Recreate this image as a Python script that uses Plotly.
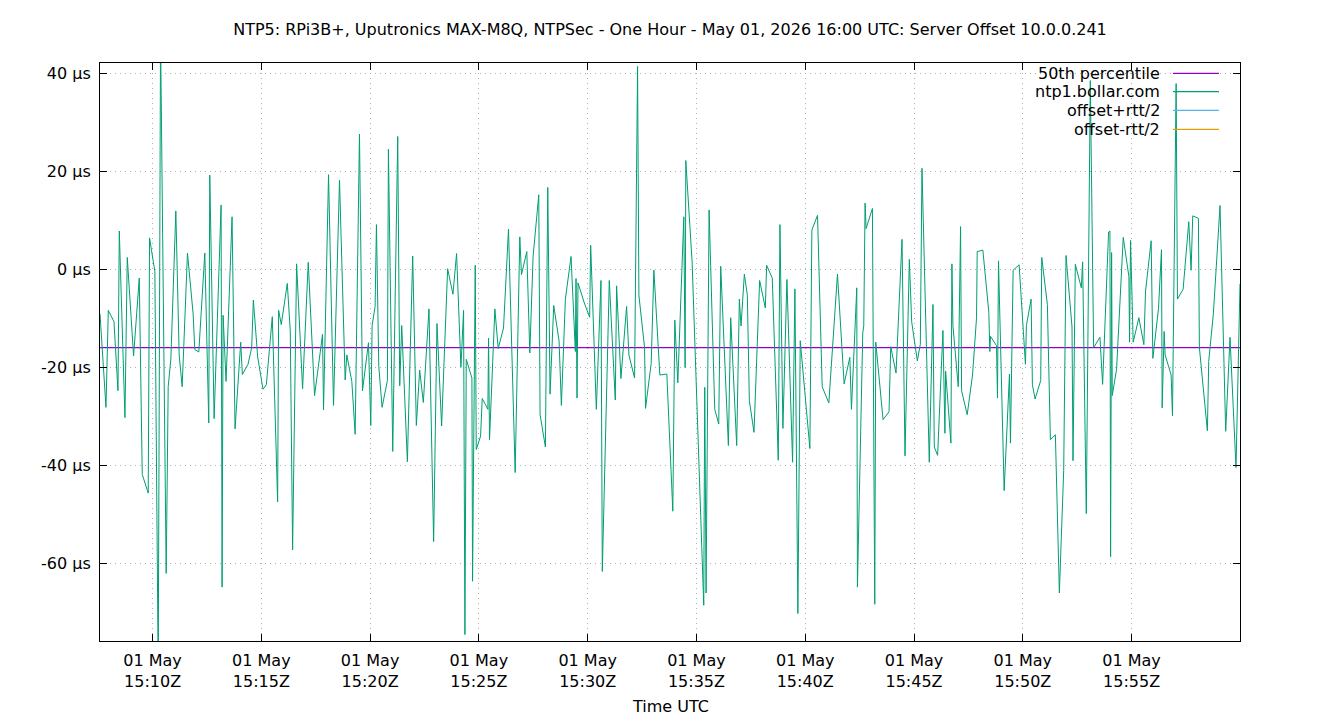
import pandas as pd
import plotly.graph_objects as go

# ---- data ----
# minutes after 2026-05-01 15:00 UTC
t_minutes = [
    7.584, 7.859, 7.966, 8.226, 8.410, 8.471, 8.731, 8.838, 9.128, 9.388, 9.526, 9.801, 9.862,
    10.107, 10.260, 10.367, 10.627, 10.719, 10.841, 11.070, 11.223, 11.361, 11.605, 11.865, 11.942,
    12.125, 12.401, 12.584, 12.630, 12.829, 13.150, 13.196, 13.242, 13.379, 13.654, 13.792, 14.052,
    14.128, 14.388, 14.556, 14.633, 14.832, 15.076, 15.229, 15.504, 15.749, 15.795, 15.917, 16.193,
    16.330, 16.437, 16.621, 16.896, 17.156, 17.447, 17.813, 17.859, 18.089, 18.318, 18.593, 18.853,
    18.930, 19.159, 19.312, 19.511, 19.648, 19.924, 20.031, 20.092, 20.229, 20.291, 20.398, 20.550,
    20.795, 20.841, 21.040, 21.269, 21.361, 21.453, 21.713, 21.957, 22.125, 22.278, 22.446, 22.706,
    22.920, 23.073, 23.287, 23.563, 23.807, 23.975, 24.174, 24.296, 24.358, 24.419, 24.679, 24.709,
    24.832, 24.878,
    25.077, 25.153, 25.413, 25.444, 25.489, 25.734, 25.887, 26.132, 26.361, 26.667, 26.881, 26.957,
    27.202, 27.340, 27.492, 27.752, 27.813, 28.058, 28.165, 28.272, 28.440, 28.685, 28.792, 28.976,
    29.236, 29.434, 29.465, 29.511, 29.557, 29.847, 30.092, 30.138, 30.398, 30.612, 30.673, 30.994,
    31.269, 31.330, 31.529, 31.789, 31.896, 32.156, 32.294, 32.355, 32.615, 32.660, 32.920, 33.043,
    33.318, 33.639,
    33.914, 34.006, 34.144, 34.419, 34.480, 34.511, 34.801, 35.336, 35.382, 35.443, 35.581, 35.841,
    36.024, 36.116, 36.468, 36.575, 36.850, 36.972, 37.049, 37.202, 37.339, 37.431, 37.645, 37.905,
    38.165, 38.226, 38.486, 38.761, 38.838, 38.975, 39.159, 39.419, 39.526, 39.663, 39.771, 40.214,
    40.306, 40.566, 40.780, 41.085, 41.483, 41.789, 42.049, 42.125, 42.370, 42.400,
    42.645, 42.691, 42.752, 42.798, 43.089, 43.196, 43.242, 43.578, 43.853, 43.930, 44.174, 44.450,
    44.587, 44.786, 44.893, 45.153, 45.291, 45.367, 45.703, 45.872, 45.933, 46.086, 46.330, 46.422,
    46.453, 46.697, 46.743, 46.789, 47.034, 47.141, 47.187, 47.446, 47.691, 47.875, 47.905, 48.165,
    48.440, 48.486, 48.517, 48.792, 48.838, 48.884, 49.144, 49.388, 49.434, 49.557, 49.832, 50.122,
    50.168, 50.382, 50.443, 50.566, 50.826, 50.872, 51.131,
    51.269, 51.499, 51.682, 51.881, 51.988, 52.263, 52.309, 52.416, 52.691, 52.752, 52.920, 53.104,
    53.257, 53.547, 53.670, 53.945, 54.006, 54.037, 54.083, 54.113, 54.312, 54.618, 54.878, 54.908,
    54.954, 55.076, 55.336, 55.566, 55.642, 55.902, 55.979, 56.239, 56.376, 56.407, 56.498, 56.544,
    56.820, 56.881, 57.049, 57.110, 57.370, 57.630, 57.737, 57.813, 58.073, 58.119, 58.486, 58.547,
    58.761, 59.067, 59.327, 59.526, 59.801, 59.985,
]

# offset in microseconds
offset_us = [
    -9.0, -28.1, -8.3, -10.6, -24.7, 7.9, -30.2, 2.5, -17.6, -1.7, -41.8, -45.6, 6.5,
    -0.4, -82.0, 48.0, -62.0, -23.9, -18.2, 12.0, -17.4, -23.9, 3.4, -9.0, -16.3,
    -16.8, 3.4, -31.3, 19.3, -30.4, 13.2, -64.8, -9.3, -22.8, 10.8, -32.5, -14.8,
    -21.4, -19.3, -15.9, -6.2, -17.8, -24.4, -23.5, -9.6, -47.4, -8.3, -11.2, -2.8,
    -12.5, -57.2, 1.2, -24.3, 1.5, -25.7, -13.2, -28.6, 19.4, -27.7, 18.3, -22.5,
    -17.4, -22.8, -33.6, 27.7, -24.7, -14.9, -31.8, -11.4, -7.5, 9.2, -19.7, -28.1,
    -22.6, 24.6, -37.1, 27.2, -23.7, -11.4, -39.2, 2.8, -31.8, -20.5, -27.1, -8.0,
    -55.5, -11.0, -31.9, 0.2, -5.0, 3.3, -19.9, -8.3, -74.5, -18.3, -22.1, -63.6,
    0.9, -36.7,
    -34.0, -26.3, -28.5, -14.0, -34.7, -8.0, -16.1, -11.9, 8.3, -41.4, 6.7, -1.0,
    3.7, -17.0, 2.7, 15.3, -29.6, -36.2, 16.8, -25.4, -7.3, -14.5, -27.7, -6.0,
    2.7, -16.7, -1.8, -26.2, -2.7, -6.8, -9.7, 5.0, -28.5, -2.2, -61.6, -2.2,
    -26.6, -3.3, -22.2, -7.5, -17.4, -22.1, 41.5, -5.2, -15.9, -28.3, -19.1, -0.1,
    -21.5, -21.3,
    -49.3, -10.3, -23.1, 10.8, -20.0, 22.3, 1.6, -68.5, -24.0, -66.0, 12.2, -28.5,
    -31.5, 0.7, -35.9, -9.8, -35.9, -6.0, -11.5, -0.9, -5.2, -26.7, -33.2, -2.2,
    -7.8, 0.9, -1.7, -38.9, 9.2, -32.4, -2.0, -39.3, -3.9, -70.2, -14.5, -36.5,
    8.1, 11.1, -23.9, -27.2, -0.9, -23.3, -17.9, -28.5, -3.7, -64.8,
    -12.9, -11.5, 13.6, 8.4, 12.5, -68.3, -14.8, -30.6, -29.0, -15.7, -21.1, 6.2,
    -38.0, 2.1, -10.6, -18.6, -15.2, 20.7, -39.3, -7.1, -36.2, -37.9, -12.4, -33.4,
    -20.7, -35.4, 1.2, -11.4, -23.9, 8.8, -24.7, -29.6, -21.5, -9.8, 3.7, 4.0,
    -8.7, -16.7, -13.6, -15.5, -26.2, 1.8, -45.1, -21.3, -35.4, -0.1, 1.0, -19.3,
    -11.4, -6.0, -23.5, -26.4, -22.6, 2.5, -7.1,
    -34.7, -33.7, -66.0, -41.0, 2.9, -11.7, -39.0, 1.1, -3.7, 1.6, -49.8, 38.6,
    -15.9, -13.8, -23.4, 7.7, 7.9, -58.6, 3.5, -25.7, -20.3, 6.6, -1.4, -14.8,
    6.0, -14.8, -9.8, -15.3, -4.4, 5.9, -18.1, -7.9, 4.1, -28.2, -12.6, -17.4,
    -21.5, -29.8, 38.0, -6.0, -4.0, 9.8, -0.1, 11.0, 10.5, -15.9, -32.9, -18.7,
    -9.0, 13.1, -33.0, -13.8, -40.4, -2.9,
]

p50_us = -15.9
y_range = [-75.8, 42.2]

x_tick_minutes = [10, 15, 20, 25, 30, 35, 40, 45, 50, 55]
x_tick_labels = ["01 May<br>15:10Z", "01 May<br>15:15Z", "01 May<br>15:20Z", "01 May<br>15:25Z",
                 "01 May<br>15:30Z", "01 May<br>15:35Z", "01 May<br>15:40Z", "01 May<br>15:45Z",
                 "01 May<br>15:50Z", "01 May<br>15:55Z"]
y_tick_vals = [-60, -40, -20, 0, 20, 40]
y_tick_labels = ["-60 µs", "-40 µs", "-20 µs", "0 µs", "20 µs", "40 µs"]

legend_names = ["50th percentile", "ntp1.bollar.com", "offset+rtt/2", "offset-rtt/2"]
legend_colors = ["#9400d3", "#009e73", "#56b4e9", "#e69f00"]

title_text = ("NTP5: RPi3B+, Uputronics MAX-M8Q, NTPSec - One Hour - May 01, 2026 16:00 UTC: "
              "Server Offset 10.0.0.241")

# ---- build ----
base = pd.Timestamp("2026-05-01 15:00:00")
times = base + pd.to_timedelta(t_minutes, unit="min")
tick_times = base + pd.to_timedelta(x_tick_minutes, unit="min")

FONT = "DejaVu Sans"
FS = 16
fig = go.Figure()
fig.add_trace(go.Scatter(x=[times[0], times[-1]], y=[p50_us, p50_us], mode="lines",
                         line=dict(color=legend_colors[0], width=1.2), name=legend_names[0],
                         showlegend=False))
fig.add_trace(go.Scatter(x=times, y=offset_us, mode="lines",
                         line=dict(color=legend_colors[1], width=1), name=legend_names[1],
                         showlegend=False))

L, R, T, B = 100, 100, 63, 79
W, H = 1340, 720
pw, ph = W - L - R, H - T - B

def px_x(x):
    return (x - L) / pw

def px_y(y):
    return 1 - (y - T) / ph

shapes = [dict(type="rect", xref="paper", yref="paper", x0=px_x(1012), x1=px_x(1226),
               y0=px_y(139), y1=1, fillcolor="white", line=dict(width=0), layer="between")]
annotations = []
rows_y = [73.4, 91.7, 110.4, 129.4]
for name, col, ry in zip(legend_names, legend_colors, rows_y):
    annotations.append(dict(text=name, xref="paper", yref="paper", x=px_x(1162), y=px_y(ry),
                            xanchor="right", yanchor="middle", showarrow=False,
                            font=dict(family=FONT, size=FS, color="black")))
    shapes.append(dict(type="line", xref="paper", yref="paper", x0=px_x(1173), x1=px_x(1219),
                       y0=px_y(ry), y1=px_y(ry), line=dict(color=col, width=1.2)))

annotations.append(dict(text="Time UTC", xref="paper", yref="paper", x=0.5, y=px_y(706),
                        xanchor="center", yanchor="middle", showarrow=False,
                        font=dict(family=FONT, size=FS, color="black")))

axis_common = dict(showline=True, linecolor="black", linewidth=1, mirror="ticks",
                   ticks="inside", ticklen=7, tickcolor="black", tickwidth=1,
                   showgrid=True, gridcolor="#b0b0b0", griddash="1px,4px", gridwidth=1,
                   zeroline=False, tickfont=dict(family=FONT, size=FS, color="black"))

fig.update_layout(
    width=W, height=H,
    margin=dict(l=L, r=R, t=T, b=B, pad=0),
    paper_bgcolor="white", plot_bgcolor="white",
    title=dict(text=title_text, x=0.5, xref="paper", xanchor="center",
               y=1 - 29 / H, yref="container", yanchor="middle",
               font=dict(family=FONT, size=FS, color="black")),
    xaxis=dict(range=[times[0], times[-1]], tickvals=tick_times, ticktext=x_tick_labels,
               ticklabelstandoff=5, **axis_common),
    yaxis=dict(range=y_range, tickvals=y_tick_vals, ticktext=y_tick_labels,
               ticklabelstandoff=5, **axis_common),
    shapes=shapes, annotations=annotations, showlegend=False,
)

fig.write_html("out.html", config={"displayModeBar": False},
               post_script="document.body.style.margin='0px';document.body.style.overflow='hidden';")
